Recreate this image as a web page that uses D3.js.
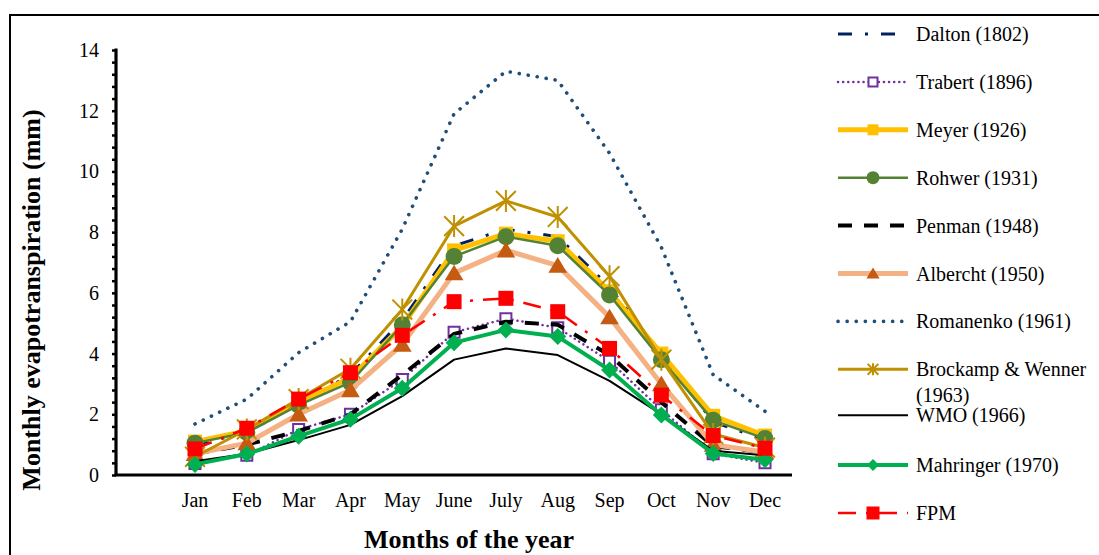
<!DOCTYPE html>
<html>
<head>
<meta charset="utf-8">
<script src="https://cdnjs.cloudflare.com/ajax/libs/d3/7.8.5/d3.min.js"></script>
<style>
  body { margin: 0; background: #fff; }
  text { font-family: "Liberation Serif", "Times New Roman", serif; fill: #000; }
</style>
</head>
<body>
<div id="chart-area"></div>
<script>
// values (mm per month)
const months    = ["Jan","Feb","Mar","Apr","May","June","July","Aug","Sep","Oct","Nov","Dec"];
const dalton    = [1.0, 1.4, 2.35, 3.3, 5.1, 7.55, 8.1, 7.85, 6.2, 3.95, 1.75, 1.15];
const trabert   = [0.38, 0.65, 1.5, 2.0, 3.15, 4.7, 5.15, 4.85, 3.75, 2.15, 0.7, 0.4];
const meyer     = [1.1, 1.45, 2.4, 3.2, 4.9, 7.4, 7.95, 7.7, 6.05, 4.0, 1.95, 1.3];
const rohwer    = [1.05, 1.4, 2.3, 3.05, 4.95, 7.2, 7.85, 7.55, 5.93, 3.8, 1.8, 1.2];
const penman    = [0.7, 1.0, 1.45, 2.0, 3.3, 4.65, 5.05, 4.95, 3.95, 2.4, 0.95, 0.75];
const albercht  = [0.7, 1.05, 2.0, 2.8, 4.3, 6.65, 7.4, 6.9, 5.2, 3.0, 1.0, 0.75];
const romanenko = [1.68, 2.5, 4.03, 5.05, 8.1, 11.9, 13.3, 13.0, 10.6, 7.5, 3.3, 2.1];
const brockamp  = [0.6, 1.5, 2.5, 3.5, 5.45, 8.2, 9.03, 8.5, 6.55, 3.8, 1.35, 0.9];
const wmo       = [0.45, 0.7, 1.15, 1.65, 2.6, 3.8, 4.17, 3.95, 3.1, 2.0, 0.8, 0.65];
const mahringer = [0.35, 0.69, 1.28, 1.84, 2.86, 4.36, 4.78, 4.56, 3.46, 1.98, 0.71, 0.5];
const fpm       = [0.86, 1.54, 2.5, 3.37, 4.6, 5.71, 5.82, 5.38, 4.17, 2.63, 1.3, 0.88];
const yTicks    = [0, 2, 4, 6, 8, 10, 12, 14];

const series = [
  { name: "Dalton (1802)", values: dalton, color: "#002060", width: 3, dash: "14,13,3,13" },
  { name: "Trabert (1896)", values: trabert, color: "#7030A0", width: 2.5, dash: "0.1,5", cap: "round", marker: "opensquare", mcolor: "#7030A0" },
  { name: "Meyer (1926)", values: meyer, color: "#FFC000", width: 5, marker: "square", mcolor: "#FFC000" },
  { name: "Rohwer (1931)", values: rohwer, color: "#548235", width: 2.5, marker: "circle", mcolor: "#548235" },
  { name: "Penman (1948)", values: penman, color: "#000000", width: 4, dash: "14,12" },
  { name: "Albercht (1950)", values: albercht, color: "#F4B183", width: 5, marker: "triangle", mcolor: "#C55A11" },
  { name: "Romanenko (1961)", values: romanenko, color: "#1F4E79", width: 3.6, dash: "0.1,9", cap: "round" },
  { name: ["Brockamp & Wenner", "(1963)"], values: brockamp, color: "#BF9000", width: 3, marker: "asterisk", mcolor: "#BF9000" },
  { name: "WMO (1966)", values: wmo, color: "#000000", width: 2 },
  { name: "Mahringer (1970)", values: mahringer, color: "#00B050", width: 4, marker: "diamond", mcolor: "#00B050" },
  { name: "FPM", values: fpm, color: "#FF0000", width: 2.5, dash: "18,10,3,10", marker: "square", mcolor: "#FF0000" }
];

const W = 1099, H = 555;
const svg = d3.select("#chart-area").append("svg")
  .attr("width", W).attr("height", H);

// outer frame
svg.append("rect")
  .attr("x", 10).attr("y", 15)
  .attr("width", W + 20).attr("height", H + 20)
  .attr("fill", "none").attr("stroke", "#000").attr("stroke-width", 2);

const x = d3.scalePoint().domain(months).range([195, 765]);
const y = d3.scaleLinear().domain([0, 14]).range([475, 50]);
const axisLeftX = 116, axisRightX = 792;

// y axis: minor ticks every 0.4, labels every 2
const yAxisG = svg.append("g").attr("transform", `translate(${axisLeftX},0)`);
yAxisG.call(d3.axisLeft(y).tickValues(d3.range(0, 14.01, 0.4)).tickSize(4).tickFormat(""));
yAxisG.selectAll(".tick line").attr("stroke", "#000").attr("stroke-width", 2.5);
yAxisG.select(".domain").remove();
yAxisG.append("line").attr("x1", 0).attr("x2", 0).attr("y1", y(14) - 1.5).attr("y2", y(0))
  .attr("stroke", "#000").attr("stroke-width", 3.2);
yAxisG.selectAll(".lbl").data(yTicks).join("text")
  .attr("class", "lbl")
  .attr("x", -17).attr("y", d => y(d) + 7)
  .attr("text-anchor", "end").attr("font-size", 20)
  .text(d => d);

// x axis
svg.append("line").attr("x1", axisLeftX - 1.5).attr("x2", axisRightX)
  .attr("y1", y(0)).attr("y2", y(0))
  .attr("stroke", "#000").attr("stroke-width", 3.2);
svg.selectAll(".mlbl").data(months).join("text")
  .attr("class", "mlbl")
  .attr("x", d => x(d)).attr("y", 507)
  .attr("text-anchor", "middle").attr("font-size", 20)
  .text(d => d);

// titles
svg.append("text")
  .attr("transform", "translate(40,300) rotate(-90)")
  .attr("text-anchor", "middle").attr("font-size", 26).attr("font-weight", "bold")
  .text("Monthly evapotranspiration (mm)");
svg.append("text")
  .attr("x", 469).attr("y", 548)
  .attr("text-anchor", "middle").attr("font-size", 26).attr("font-weight", "bold")
  .text("Months of the year");

function markerPath(type, s) {
  if (type === "square" || type === "opensquare") return `M${-s},${-s}H${s}V${s}H${-s}Z`;
  if (type === "triangle") return `M0,${-s}L${s * 1.1},${s * 0.85}H${-s * 1.1}Z`;
  if (type === "diamond") return `M0,${-s}L${s},0L0,${s}L${-s},0Z`;
  if (type === "asterisk") {
    const d = s * 0.9;
    return `M0,${-s}V${s}M${-d},${-d}L${d},${d}M${d},${-d}L${-d},${d}`;
  }
  return null;
}

function drawMarker(g, s, cx, cy, size) {
  if (!s.marker) return;
  if (s.marker === "circle") {
    g.append("circle").attr("cx", cx).attr("cy", cy).attr("r", size)
      .attr("fill", s.mcolor);
    return;
  }
  const p = g.append("path")
    .attr("transform", `translate(${cx},${cy})`)
    .attr("d", markerPath(s.marker, size));
  if (s.marker === "opensquare") {
    p.attr("fill", "#fff").attr("stroke", s.mcolor).attr("stroke-width", 2);
  } else if (s.marker === "asterisk") {
    p.attr("fill", "none").attr("stroke", s.mcolor).attr("stroke-width", 2);
  } else {
    p.attr("fill", s.mcolor);
  }
}

const plotSize = { opensquare: 5.5, square: 7, circle: 8.5, triangle: 8.5, diamond: 8.5, asterisk: 11 };
const legSize  = { opensquare: 4.5, square: 5.5, circle: 6.5, triangle: 6, diamond: 6, asterisk: 6 };

const line = d3.line().x((d, i) => x(months[i])).y(d => y(d));
const plot = svg.append("g");

series.forEach(s => {
  const g = plot.append("g");
  g.append("path")
    .attr("d", line(s.values))
    .attr("fill", "none")
    .attr("stroke", s.color)
    .attr("stroke-width", s.width)
    .attr("stroke-dasharray", s.dash || null)
    .attr("stroke-linecap", s.cap || "butt")
    .attr("stroke-linejoin", "round");
  s.values.forEach((v, i) => {
    const sz = s.name === "FPM" ? 7.5 : plotSize[s.marker];
    drawMarker(g, s, x(months[i]), y(v), sz);
  });
});

// legend
const legX1 = 838, legX2 = 908, legTextX = 916;
const legY = d3.scaleLinear().domain([0, 10]).range([34, 513]);
const legend = svg.append("g");
series.forEach((s, i) => {
  const cy = legY(i) + (i === 8 ? -2 : 0);
  const g = legend.append("g");
  g.append("line")
    .attr("x1", legX1).attr("x2", legX2).attr("y1", cy).attr("y2", cy)
    .attr("stroke", s.color)
    .attr("stroke-width", s.width)
    .attr("stroke-dasharray", s.dash || null)
    .attr("stroke-linecap", s.cap || "butt");
  drawMarker(g, s, (legX1 + legX2) / 2, cy, s.name === "FPM" ? 6.5 : legSize[s.marker]);
  const names = Array.isArray(s.name) ? s.name : [s.name];
  const t = g.append("text").attr("x", legTextX).attr("y", cy + 7).attr("font-size", 20);
  names.forEach((n, j) => {
    t.append("tspan").attr("x", legTextX).attr("dy", j === 0 ? 0 : 26).text(n);
  });
});
</script>
</body>
</html>
